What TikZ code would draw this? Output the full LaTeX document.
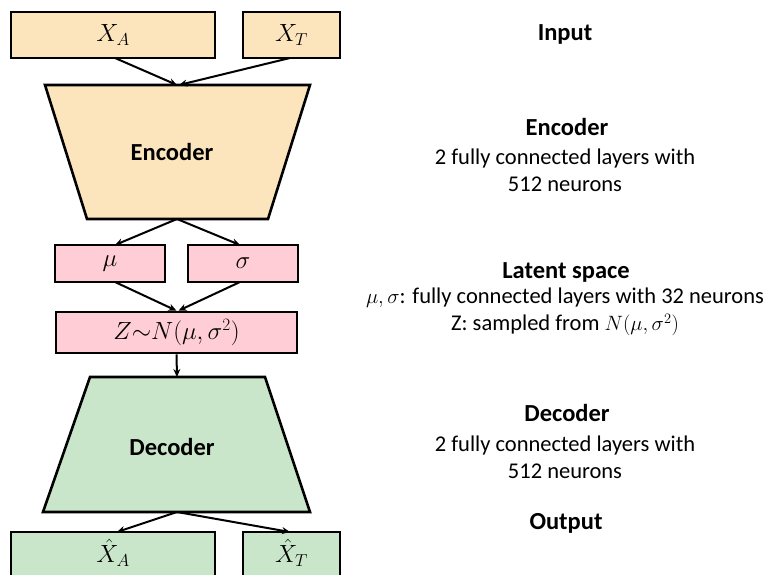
\documentclass[tikz,border=0pt]{standalone}
\usepackage{fontspec}
\setmainfont{Carlito}
\usetikzlibrary{arrows.meta}
\definecolor{encfill}{RGB}{252,228,188}
\definecolor{latfill}{RGB}{255,205,213}
\definecolor{decfill}{RGB}{201,230,202}
\tikzset{
  box/.style={draw=black, line width=2.6pt, inner sep=0pt},
  encbox/.style={box, fill=encfill},
  latbox/.style={box, fill=latfill},
  decbox/.style={box, fill=decfill},
  trap/.style={draw=black, line width=2.6pt, line join=miter},
  conn/.style={line width=2pt, -{Stealth[length=8pt,width=7pt]}},
  mtxt/.style={font=\fontsize{25}{30}\selectfont},
  title/.style={font=\fontsize{24.5}{29}\selectfont\bfseries},
  body/.style={font=\fontsize{22.5}{27}\selectfont, align=center}
}
\begin{document}
\begin{tikzpicture}[x=1pt,y=-1pt]
\useasboundingbox (0,0) rectangle (772,575);
% input
\node[encbox, minimum width=204pt, minimum height=46pt, mtxt] (xa) at (113,35) {$X_A$};
\node[encbox, minimum width=97pt, minimum height=46pt, mtxt] (xt) at (291.5,35) {$X_T$};
% encoder
\draw[trap, fill=encfill] (45,85) -- (310,85) -- (268,219) -- (87,219) -- cycle;
\coordinate (encT) at (177,85);
\coordinate (encB) at (177,219);
\node[title] (enc) at (172,152) {Encoder};
% latent
\node[latbox, minimum width=110pt, minimum height=37pt, mtxt] (mu) at (110,263.5) {$\mu$};
\node[latbox, minimum width=110pt, minimum height=37pt, mtxt] (sig) at (243,263.5) {$\sigma$};
\node[latbox, minimum width=241pt, minimum height=41pt, mtxt] (z) at (176.5,332.5) {$Z{\sim}N(\mu,\sigma^2)$};
% decoder
\draw[trap, fill=decfill] (90,377) -- (265,377) -- (310,512) -- (43,512) -- cycle;
\coordinate (decT) at (177,377);
\coordinate (decB) at (177,512);
\node[title] (dec) at (172,447) {Decoder};
% output
\node[decbox, minimum width=204pt, minimum height=46pt] (ya) at (113,555) {};
\node[decbox, minimum width=97pt, minimum height=46pt] (yt) at (291.5,555) {};
\node[mtxt, inner sep=0pt] (yal) at (113,553) {$\hat{X}_A$};
\node[mtxt, inner sep=0pt] (ytl) at (291.5,553) {$\hat{X}_T$};
% connectors
\draw[conn] (115,58) -- (encT);
\draw[conn] (290,58) -- ([xshift=2pt]encT);
\draw[conn] (encB) -- (115,245);
\draw[conn] (encB) -- (240,245);
\draw[conn] (115,282) -- (z.north);
\draw[conn] (240,282) -- ([xshift=2pt]z.north);
\draw[conn] (z.south) -- (decT);
\draw[conn] (decB) -- (117,532);
\draw[conn] (decB) -- (290,532);
% right-hand text
\node[title] (tin) at (565,34) {Input};
\node[title] (tenc) at (567,127) {Encoder};
\node[body] (benc) at (565,170) {2 fully connected layers with\\512 neurons};
\node[title] (tlat) at (566,272) {Latent space};
\node[body] (blat) at (565,312) {$\mu,\sigma$: fully connected layers with 32 neurons\\Z: sampled from $N(\mu,\sigma^2)$};
\node[title] (tdec) at (567,413) {Decoder};
\node[body] (bdec) at (565,457) {2 fully connected layers with\\512 neurons};
\node[title] (tout) at (566,523) {Output};
\end{tikzpicture}
\end{document}
